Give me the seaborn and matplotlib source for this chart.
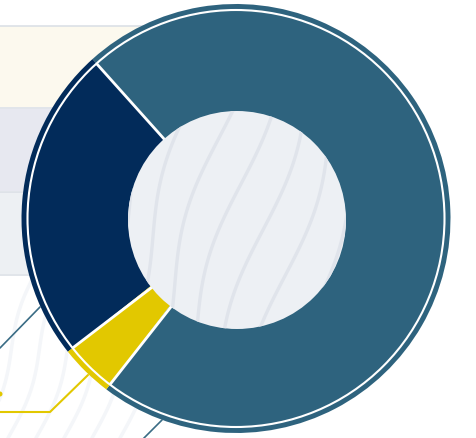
import numpy as np
import matplotlib
matplotlib.use("Agg")
import matplotlib.pyplot as plt
import seaborn as sns
from matplotlib.patches import Circle, Rectangle

# ---- data ----
labels = ["Segment A", "Segment B", "Segment C"]
shares = [72, 24, 4]
colors = ["#2e637e", "#022b5a", "#e2c800"]
start_angle = 232.8

sns.set_theme(style="white")
W, H = 477, 439
fig = plt.figure(figsize=(W / 100, H / 100), dpi=100)
ax = fig.add_axes([0, 0, 1, 1])
ax.set_xlim(0, W)
ax.set_ylim(0, H)
ax.set_aspect("equal")
ax.axis("off")

def Y(y):
    return H - y

cx, cy = 236, Y(219.5)
R = 214.5
r_in = 109
r_sep = 208.5
hx, hy = 237, Y(221)

# background bands on the left
bands = [(27, 108, "#fcf9ee"), (110, 192, "#e7e8f0"), (193, 275, "#edf0f3")]
for y0, y1, c in bands:
    ax.add_patch(Rectangle((0, Y(y1)), 220, y1 - y0, facecolor=c, edgecolor="none", zorder=1))
for yl in [26.5, 109, 192.5, 275.5]:
    ax.plot([0, 220], [Y(yl), Y(yl)], color="#dbe0e6", lw=1.2, zorder=1.5)

# faint background waves
tt = np.linspace(0, 1, 100)
for k in range(6):
    xs = -20 + k * 28 + 60 * tt + 6 * np.sin(tt * 6)
    ys = 439 - 170 * tt
    ax.plot(xs, [Y(v) for v in ys], color="#f4f6f9", lw=2.5, zorder=1.2)

# connector lines
ax.plot([0, 40], [Y(349), Y(308)], color="#3a6c85", lw=1.2, zorder=2)
ax.plot([0, 50, 88], [Y(413), Y(413), Y(376)], color="#e2c800", lw=1.5, zorder=2)
ax.plot([143, 162], [Y(440), Y(421)], color="#3a6c85", lw=1.2, zorder=2)
ax.add_patch(Circle((0, Y(395)), 2.5, facecolor="#e2c800", edgecolor="none", zorder=2))

# donut
wedges, _ = ax.pie(shares, colors=colors, startangle=start_angle, counterclock=True,
                   center=(cx, cy), radius=R, frame=True,
                   wedgeprops=dict(width=R - r_in + 5, edgecolor="none", linewidth=0))
for w in wedges:
    w.set_zorder(3)

# white separator ring
ax.add_patch(Circle((cx, cy), r_sep, facecolor="none", edgecolor="white", lw=1.5, zorder=4))

# radial separators between segments
cum = start_angle
for s in shares:
    a = np.deg2rad(cum)
    ax.plot([hx + (r_in - 4) * np.cos(a), cx + r_sep * np.cos(a)],
            [hy + (r_in - 4) * np.sin(a), cy + r_sep * np.sin(a)],
            color="white", lw=2.0, zorder=4, solid_capstyle="butt")
    cum += s / sum(shares) * 360

# hole
hole = Circle((hx, hy), r_in, facecolor="#edf0f4", edgecolor="none", zorder=5)
ax.add_patch(hole)
for k in range(8):
    xs = hx - 150 + k * 36 + 70 * tt + 10 * np.sin(tt * 5 + k)
    ys = hy - 115 + 230 * tt
    ln, = ax.plot(xs, ys, color="#e0e4eb", lw=2.4, zorder=6)
    ln.set_clip_path(hole)

ax.set_xlim(0, W)
ax.set_ylim(0, H)
ax.axis("off")
fig.savefig("out.png", dpi=100)
